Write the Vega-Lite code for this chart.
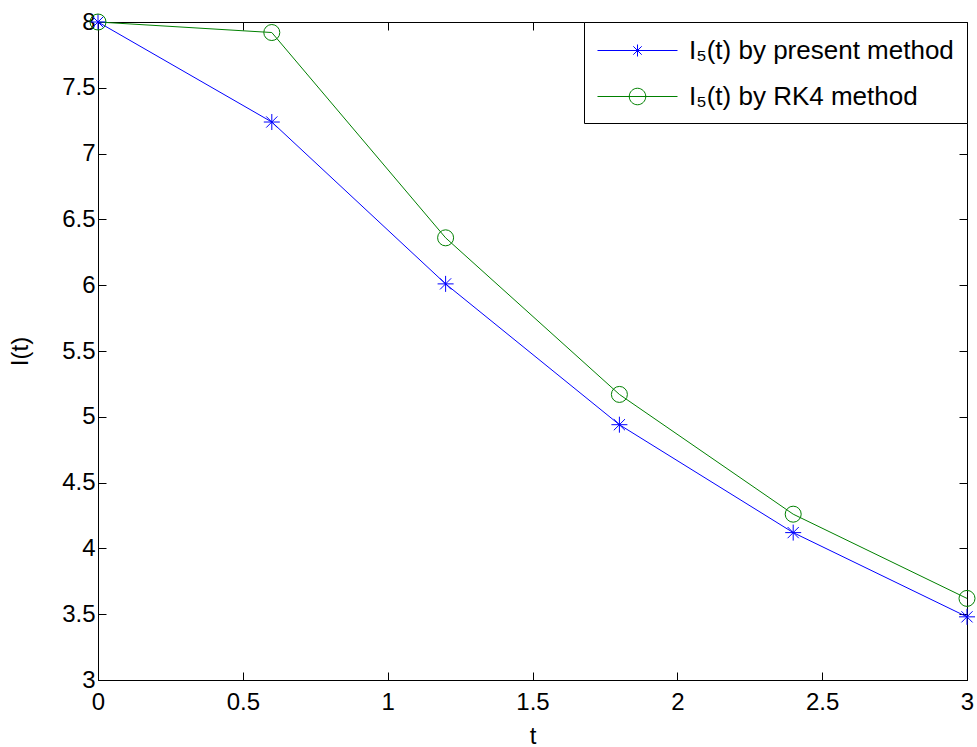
{
  "$schema": "https://vega.github.io/schema/vega-lite/v6.json",
  "width": 869,
  "height": 658,
  "autosize": "none",
  "padding": {"left": 98, "top": 22, "right": 10, "bottom": 67},
  "background": "white",
  "config": {
    "view": {"stroke": "black", "strokeWidth": 1},
    "font": "Liberation Sans",
    "axis": {
      "grid": false,
      "domainColor": "black",
      "domainWidth": 1,
      "tickColor": "black",
      "tickWidth": 1,
      "tickSize": -8,
      "labelFont": "Liberation Sans",
      "labelFontSize": 24,
      "labelColor": "black",
      "labelFlush": false,
      "format": "~g",
      "titleFont": "Liberation Sans",
      "titleFontSize": 24,
      "titleFontWeight": "normal",
      "titleColor": "black"
    }
  },
  "data": {
    "values": [
      {"t": 0, "I": 8.0, "series": "I₅(t) by present method"},
      {"t": 0.6, "I": 7.24, "series": "I₅(t) by present method"},
      {"t": 1.2, "I": 6.01, "series": "I₅(t) by present method"},
      {"t": 1.8, "I": 4.94, "series": "I₅(t) by present method"},
      {"t": 2.4, "I": 4.12, "series": "I₅(t) by present method"},
      {"t": 3.0, "I": 3.48, "series": "I₅(t) by present method"},
      {"t": 0, "I": 8.0, "series": "I₅(t) by RK4 method"},
      {"t": 0.6, "I": 7.92, "series": "I₅(t) by RK4 method"},
      {"t": 1.2, "I": 6.36, "series": "I₅(t) by RK4 method"},
      {"t": 1.8, "I": 5.17, "series": "I₅(t) by RK4 method"},
      {"t": 2.4, "I": 4.26, "series": "I₅(t) by RK4 method"},
      {"t": 3.0, "I": 3.62, "series": "I₅(t) by RK4 method"}
    ]
  },
  "layer": [
    {
      "mark": {"type": "line", "strokeWidth": 1, "clip": false},
      "encoding": {
        "x": {
          "field": "t", "type": "quantitative",
          "scale": {"domain": [0, 3], "nice": false},
          "axis": {"orient": "bottom", "title": "t", "values": [0, 0.5, 1, 1.5, 2, 2.5, 3], "labelPadding": 18, "titlePadding": 10}
        },
        "y": {
          "field": "I", "type": "quantitative",
          "scale": {"domain": [3, 8], "nice": false, "zero": false},
          "axis": {"orient": "left", "title": "I(t)", "values": [3, 3.5, 4, 4.5, 5, 5.5, 6, 6.5, 7, 7.5, 8], "labelPadding": 11, "titlePadding": 29}
        },
        "color": {
          "field": "series", "type": "nominal",
          "scale": {"domain": ["I₅(t) by present method", "I₅(t) by RK4 method"], "range": ["#0000ff", "#008000"]},
          "legend": {
            "title": null,
            "orient": "top-right",
            "offset": 0,
            "strokeColor": "black",
            "fillColor": "white",
            "padding": 13,
            "symbolSize": 900,
            "symbolOffset": 25,
            "symbolStrokeWidth": 1,
            "symbolFillColor": "transparent",
            "labelFont": "Liberation Sans",
            "labelFontSize": 26,
            "labelColor": "black",
            "labelOffset": 36,
            "labelLimit": 400,
            "rowPadding": 17,
            "encode": {
              "symbols": {
                "update": {
                  "shape": {"signal": "datum.value === 'I₅(t) by present method' ? 'M-2.667,0H2.667M0,-0.4V0.4M-0.28,-0.28L0.28,0.28M-0.28,0.28L0.28,-0.28' : 'M-2.667,0H2.667M-0.55,0A0.55,0.55,0,1,0,0.55,0A0.55,0.55,0,1,0,-0.55,0'"},
                  "fill": {"value": "transparent"},
                  "strokeWidth": {"value": 1}
                }
              }
            }
          }
        }
      }
    },
    {
      "transform": [{"filter": "datum.series === 'I₅(t) by present method'"}],
      "mark": {"type": "point", "filled": false, "strokeWidth": 1, "size": 256, "opacity": 1, "clip": false, "shape": "M-1,0H1M0,-1V1M-0.7,-0.7L0.7,0.7M-0.7,0.7L0.7,-0.7"},
      "encoding": {
        "x": {
          "field": "t", "type": "quantitative",
          "axis": {"orient": "top", "title": null, "labels": false, "values": [0, 0.5, 1, 1.5, 2, 2.5, 3]}
        },
        "y": {
          "field": "I", "type": "quantitative",
          "axis": {"orient": "right", "title": null, "labels": false, "values": [3, 3.5, 4, 4.5, 5, 5.5, 6, 6.5, 7, 7.5, 8]}
        },
        "color": {"field": "series", "type": "nominal"}
      }
    },
    {
      "transform": [{"filter": "datum.series === 'I₅(t) by RK4 method'"}],
      "mark": {"type": "point", "filled": false, "strokeWidth": 1, "size": 256, "opacity": 1, "clip": false, "shape": "circle"},
      "encoding": {
        "x": {"field": "t", "type": "quantitative", "axis": null},
        "y": {"field": "I", "type": "quantitative", "axis": null},
        "color": {"field": "series", "type": "nominal"}
      }
    }
  ],
  "resolve": {"axis": {"x": "independent", "y": "independent"}}
}
